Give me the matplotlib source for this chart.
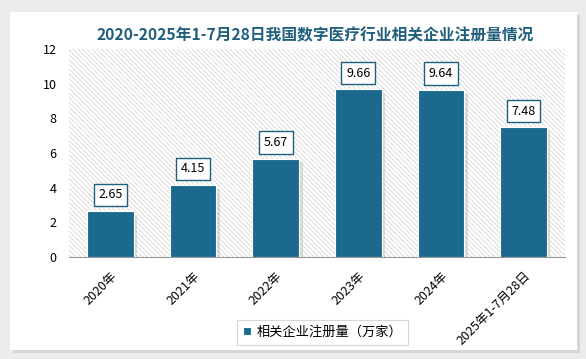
import matplotlib.pyplot as plt
import matplotlib.patheffects as pe
from matplotlib.patches import Rectangle

plt.rcParams['font.family'] = ['Noto Sans CJK SC', 'DejaVu Sans']
plt.rcParams['hatch.color'] = '#d6d6d6'
plt.rcParams['hatch.linewidth'] = 0.6

categories = ['2020年', '2021年', '2022年', '2023年', '2024年', '2025年1-7月28日']
values = [2.65, 4.15, 5.67, 9.66, 9.64, 7.48]
series_name = '相关企业注册量（万家）'
title = '2020-2025年1-7月28日我国数字医疗行业相关企业注册量情况'

bar_color = '#1b6a8e'

fig = plt.figure(figsize=(5.86, 3.59), dpi=100)
fig.patch.set_facecolor('#ececec')

# white panel with soft shadow, behind the axes
panel = Rectangle((0.017, 0.025), 0.968, 0.9415, transform=fig.transFigure,
                  facecolor='white', edgecolor='none', zorder=-10,
                  path_effects=[pe.SimplePatchShadow(offset=(2, -2), shadow_rgbFace='#c8c8c8', alpha=0.6),
                                pe.Normal()])
fig.add_artist(panel)

ax = fig.add_axes([0.118, 0.284, 0.846, 0.580])
ax.patch.set_facecolor('white')
ax.patch.set_hatch('\\\\\\\\\\\\\\')
ax.patch.set_edgecolor('#d6d6d6')
ax.patch.set_linewidth(0)

x = range(len(categories))
bars = ax.bar(x, values, width=0.565, color=bar_color, edgecolor='white', linewidth=0.8,
              label=series_name, zorder=3)
for b in bars:
    b.set_path_effects([pe.SimplePatchShadow(offset=(2.5, -2.5), shadow_rgbFace='#999999', alpha=0.3),
                        pe.Normal()])

for xi, v in zip(x, values):
    ax.annotate(f'{v:.2f}', (xi, v), xytext=(0, 7), textcoords='offset points',
                ha='center', va='bottom', fontsize=9, color='black', zorder=5,
                bbox=dict(boxstyle='square,pad=0.38', facecolor='white', edgecolor='#1d5f7c', linewidth=1))

ax.set_xlim(-0.5, len(categories) - 0.5)
ax.set_ylim(0, 12)
ax.set_yticks(range(0, 13, 2))
ax.set_xticks(list(x))
ax.set_xticklabels(categories, rotation=45, ha='right', rotation_mode='anchor', fontsize=9)
ax.tick_params(axis='both', length=0, labelsize=9)
ax.tick_params(axis='x', pad=9)
ax.tick_params(axis='y', pad=9)
for s in ['top', 'right', 'left']:
    ax.spines[s].set_visible(False)
ax.spines['bottom'].set_color('#999999')
ax.spines['bottom'].set_linewidth(0.8)

fig.text(0.538, 0.903, title, ha='center', va='center', fontsize=11.3, fontweight='bold', color='#1f5f7d')

leg = fig.legend(loc='center', bbox_to_anchor=(0.551, 0.075), fontsize=9.5, frameon=True,
                 fancybox=False, edgecolor='#cccccc', handlelength=0.6, handleheight=0.6,
                 handletextpad=0.4, borderpad=0.45)
leg.get_frame().set_linewidth(0.8)
for h in leg.legend_handles:
    h.set_path_effects([])

fig.savefig('out.png', dpi=100)
